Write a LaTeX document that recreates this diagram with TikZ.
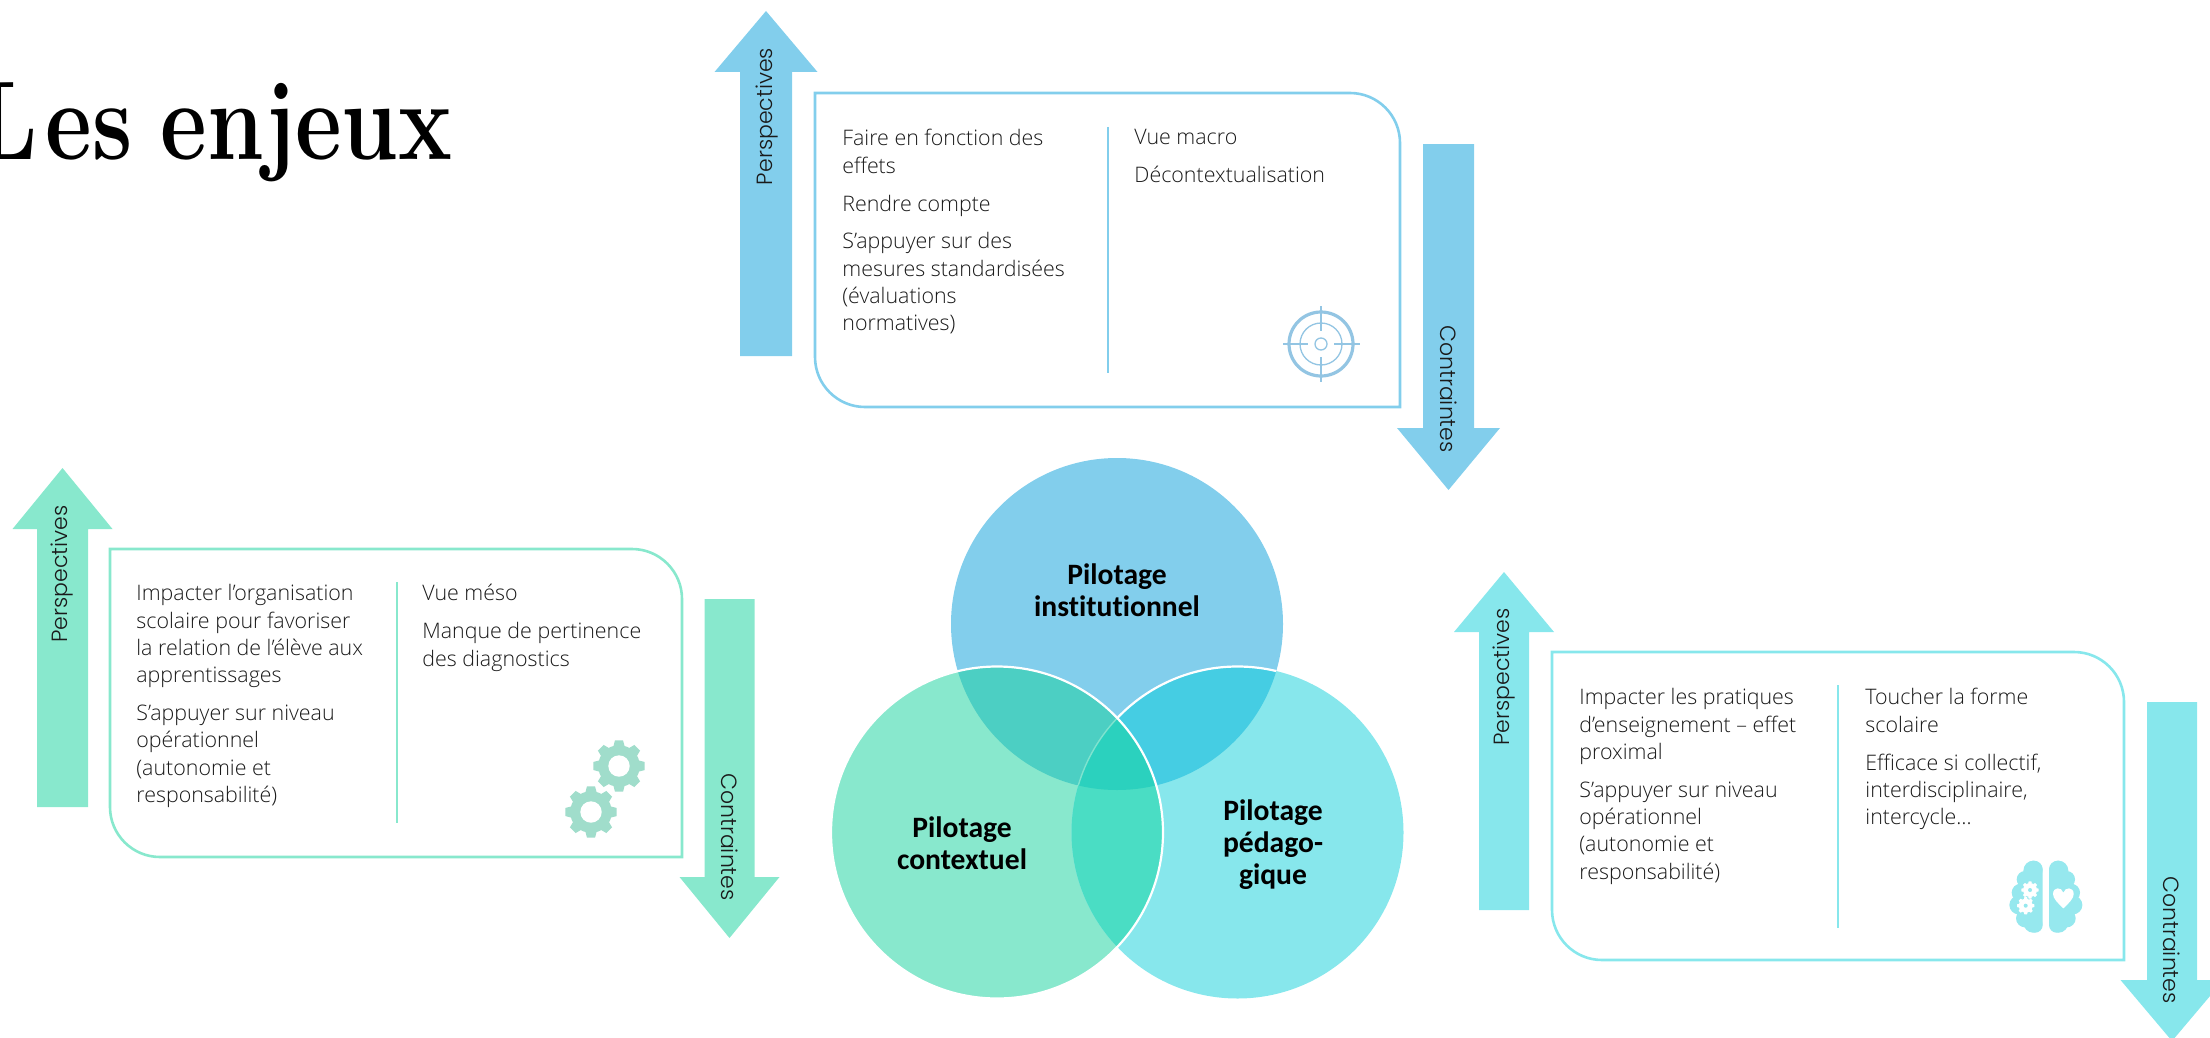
\documentclass[tikz,border=0pt]{standalone}
\usepackage{fontspec}
\newfontfamily\bodyfont[Ligatures=NoCommon]{Open Sans Light}
\newfontfamily\arrowfont{Poppins Light}
\newfontfamily\vennfont[BoldFont=Carlito Bold,Ligatures=NoCommon]{Carlito}
\definecolor{cBlue}{HTML}{82CEEC}
\definecolor{cGreen}{HTML}{88E8CD}
\definecolor{cCyan}{HTML}{87E7EC}
\definecolor{cBG}{HTML}{4CCFC3}
\definecolor{cBC}{HTML}{45CDE3}
\definecolor{cGC}{HTML}{4ADDC4}
\definecolor{cAll}{HTML}{2BD1BE}
\definecolor{cFaint}{HTML}{7FE3CF}
\definecolor{cTarget}{HTML}{93C5E3}
\definecolor{cGear}{HTML}{A0DDCB}
\definecolor{cBrain}{HTML}{96E8EE}
\definecolor{cText}{HTML}{1A1A1A}
\tikzset{
  bodytext/.style={anchor=north west,inner sep=0pt,align=left,yshift=7.95pt,text=cText,
    font=\bodyfont\fontsize{10.7}{13.65}\selectfont,execute at begin node=\strut},
  arrowtext/.style={inner sep=0pt,text=cText,font=\arrowfont\fontsize{11}{12}\selectfont},
  venntext/.style={inner sep=0pt,align=center,text=black,font=\vennfont\bfseries\fontsize{14.8}{16}\selectfont},
  boxline/.style={line width=1.3pt,fill=white},
  sepline/.style={line width=1.1pt},
}
% box: x1,y1,x2,y2
\newcommand{\diagbox}[5]{%
  \draw[boxline,draw=#5] (#1,#2) -- ({#3-50},#2) .. controls ({#3-22.4},#2) and (#3,{#2+22.4}) .. (#3,{#2+50})
    -- (#3,#4) -- ({#1+50},#4) .. controls ({#1+22.4},#4) and (#1,{#4-22.4}) .. (#1,{#4-50}) -- cycle;}
% arrow: centre x, half shaft, half head, tip y, base y, end y
\newcommand{\arrowshape}[7]{%
  \fill[#7] ({#1-#2},#6) -- ({#1-#2},#5) -- ({#1-#3},#5) -- (#1,#4) -- ({#1+#3},#5) -- ({#1+#2},#5) -- ({#1+#2},#6) -- cycle;}
% gear: x,y,R,colour,hole colour,hole radius
\newcommand{\gearicon}[6]{%
  \fill[#4] (#1,#2) circle ({0.8*#3});
  \foreach \a in {0,45,...,315}{
    \fill[#4] ($(#1,#2)+(\a-17:{0.76*#3})$) -- ($(#1,#2)+(\a-9:#3)$) -- ($(#1,#2)+(\a+9:#3)$) -- ($(#1,#2)+(\a+17:{0.76*#3})$) -- cycle;}
  \fill[#5] (#1,#2) circle (#6);}
\usetikzlibrary{calc}
\begin{document}
\begin{tikzpicture}[x=0.5pt,y=-0.5pt]
\useasboundingbox (0,0) rectangle (2210,1038);
\clip (0,0) rectangle (2210,1038);

% title
\node[anchor=base east,inner sep=0pt,font=\fontsize{56}{64}\selectfont\bfseries] (title) at (453,159) {\scalebox{0.81}[1]{L\kern5pt es\kern-3.5pt{} enjeux}};

% --- Venn
\coordinate (cT) at (1117,624);
\coordinate (cL) at (997,832.5);
\coordinate (cR) at (1237.5,832.5);
\def\vr{166}
\fill[cBlue] (cT) circle (\vr);
\fill[cGreen] (cL) circle (\vr);
\fill[cCyan] (cR) circle (\vr);
\begin{scope}
  \clip (cT) circle (\vr);
  \filldraw[fill=cBC,draw=white,line width=1.1pt] (cR) circle (\vr);
  \fill[cBG] (cL) circle (\vr);
\end{scope}
\begin{scope}
  \clip (cL) circle (\vr);
  \fill[cGC] (cR) circle (\vr);
  \clip (cT) circle (\vr);
  \filldraw[fill=cAll,draw=cFaint,line width=0.7pt] (cR) circle (\vr);
\end{scope}
\draw[white,line width=1.1pt] (cL) circle (\vr);
\node[venntext] (vT) at (1117,590) {Pilotage\\institutionnel};
\node[venntext] (vL) at (962,843.5) {Pilotage\\contextuel};
\node[venntext] (vR) at (1273,845) {Pilotage\\pédago-\\gique};

% --- top group
\arrowshape{766}{26}{51.5}{11}{72}{356}{cBlue}
\diagbox{815}{93}{1400}{407}{cBlue}
\arrowshape{1448.5}{25.5}{51.5}{490}{428}{144}{cBlue}
\draw[sepline,cBlue] (1108,127) -- (1108,373);
\node[arrowtext,rotate=90] (a1) at (767,116.5) {Perspectives};
\node[arrowtext,rotate=-90] (a2) at (1449,389) {Contraintes};
\node[bodytext] (t1) at (842,145) {Faire en fonction des\\effets\\[5.3pt]Rendre compte\\[5.3pt]S’appuyer sur des\\mesures standardisées\\(évaluations\\normatives)};
\node[bodytext] (t2) at (1134,145) {Vue macro\\[5.3pt]Décontextualisation};
% target icon
\draw[cTarget,line width=1.6pt] (1321,344) circle (32);
\draw[cTarget,line width=0.65pt] (1321,344) circle (21) (1321,344) circle (6);
\draw[cTarget,line width=0.65pt] (1283,344) -- (1308,344) (1334,344) -- (1360,344) (1321,306) -- (1321,331) (1321,357) -- (1321,382);

% --- left group
\arrowshape{62.5}{25.5}{50}{468}{529}{807}{cGreen}
\diagbox{110}{549}{682}{857}{cGreen}
\arrowshape{729.5}{25}{50}{938}{877}{599}{cGreen}
\draw[sepline,cGreen] (397,582) -- (397,823);
\node[arrowtext,rotate=90] (a3) at (62,574) {Perspectives};
\node[arrowtext,rotate=-90] (a4) at (730,837) {Contraintes};
\node[bodytext] (t3) at (136,600) {Impacter l’organisation\\scolaire pour favoriser\\la relation de l’élève aux\\apprentissages\\[5.3pt]S’appuyer sur niveau\\opérationnel\\(autonomie et\\responsabilité)};
\node[bodytext] (t4) at (422,600) {Vue méso\\[5.3pt]Manque de pertinence\\des diagnostics};
\gearicon{619}{766}{26}{cGear}{white}{10.7}
\gearicon{591}{812}{26}{cGear}{white}{10.7}

% --- right group
\arrowshape{1504}{25}{50}{572}{632}{910}{cCyan}
\diagbox{1552}{652}{2124}{960}{cCyan}
\arrowshape{2172}{25}{51.5}{1041}{980}{702}{cCyan}
\draw[sepline,cCyan] (1838,685) -- (1838,928);
\node[arrowtext,rotate=90] (a5) at (1504,677) {Perspectives};
\node[arrowtext,rotate=-90] (a6) at (2172,940) {Contraintes};
\node[bodytext] (t5) at (1579,704) {Impacter les pratiques\\d’enseignement – effet\\proximal\\[5.3pt]S’appuyer sur niveau\\opérationnel\\(autonomie et\\responsabilité)};
\node[bodytext] (t6) at (1865,704) {Toucher la forme\\scolaire\\[5.3pt]Efficace si collectif,\\interdisciplinaire,\\intercycle…};
% brain icon
\begin{scope}[shift={(1980,840)},x=0.1667pt,y=-0.1667pt]
  \fill[cBrain,rounded corners=5pt] (130,62) rectangle (188,278);
  \foreach \px/\py/\pr in {162/88/26,135/118/25,122/158/27,116/195/28,135/235/27,165/255/23}{
    \fill[cBrain] (\px,\py) circle (\pr);
    \fill[cBrain] ({395-\px},\py) circle (\pr);}
  \fill[cBrain,rounded corners=5pt] (207,62) rectangle (265,278);
  \fill[white] (250,205) .. controls (232,188) and (219,175) .. (219,162) .. controls (219,140) and (245,140) .. (250,158) .. controls (255,140) and (281,140) .. (281,162) .. controls (281,175) and (268,188) .. (250,205) -- cycle;
  \gearicon{150}{150}{26}{white}{cBrain}{6}
  \gearicon{137}{197}{26}{white}{cBrain}{6}
\end{scope}
\end{tikzpicture}
\end{document}
